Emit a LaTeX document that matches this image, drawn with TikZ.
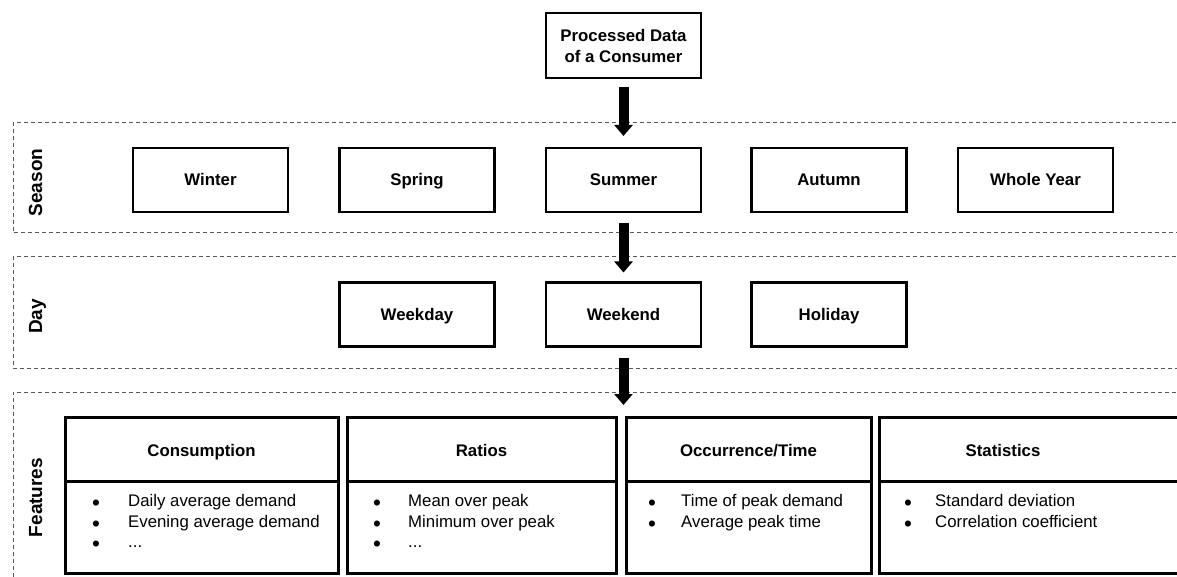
\documentclass[tikz,border=0pt]{standalone}
\usepackage{fontspec}
\setmainfont{Liberation Sans}
\usetikzlibrary{arrows.meta}

% list bullet, a little larger than the text bullet
\newcommand{\listdot}[1]{\makebox[#1][l]{\raisebox{-4.3pt}{\fontsize{22.5}{0}\selectfont •}}}

\begin{document}
\begin{tikzpicture}[x=1pt,y=-1pt,
  stagebox/.style={draw=black, line width=2.9pt, minimum width=155pt, minimum height=64pt,
    inner sep=0pt, outer sep=0pt, text height=12pt, text depth=0pt,
    font=\fontsize{16.8}{21}\selectfont\bfseries},
  band/.style={draw=black!65, line width=1pt, dash pattern=on 4pt off 3pt},
  bandlabel/.style={rotate=90, anchor=base, inner sep=0pt, font=\fontsize{19}{19}\selectfont\bfseries},
  flow/.style={line width=10pt, -{Triangle[width=18pt,length=11pt]}},
  featframe/.style={draw=black, line width=3pt},
  feathead/.style={anchor=base, inner sep=0pt, font=\fontsize{16.8}{20}\selectfont\bfseries},
  featitem/.style={anchor=base west, inner sep=0pt, font=\fontsize{16.8}{20}\selectfont},
]
\useasboundingbox (0,0) rectangle (1177,577);

% dashed bands
\draw[band] (1190,123) -- (13,123) -- (13,233) -- (1190,233);
\draw[band] (1190,257) -- (13,257) -- (13,368) -- (1190,368);
\draw[band] (1190,392) -- (13,392) -- (13,590);

\node[bandlabel] (lseason) at (42,182.5) {Season};
\node[bandlabel] (lday) at (42,316.5) {Day};
\node[bandlabel] (lfeat) at (42,497.5) {Features};

% input
\node[stagebox, text height=, text depth=, minimum height=65pt, align=center] (input) at (623.5,45.5)
  {Processed Data\\of a Consumer};

% seasons
\node[stagebox] (winter) at (210.5,180) {Winter};
\node[stagebox] (spring) at (417,180) {Spring};
\node[stagebox] (summer) at (623.5,180) {Summer};
\node[stagebox] (autumn) at (829,180) {Autumn};
\node[stagebox] (year)   at (1035.5,180) {Whole Year};

% day types
\node[stagebox] (weekday) at (417,314.5) {Weekday};
\node[stagebox] (weekend) at (623.5,314.5) {Weekend};
\node[stagebox] (holiday) at (829,314.5) {Holiday};

% feature groups
\draw[featframe] (65,417) rectangle (338,573) (65,481) -- (338,481);
\draw[featframe] (347,417) rectangle (616,573) (347,481) -- (616,481);
\draw[featframe] (626,417) rectangle (871,573) (626,481) -- (871,481);
\draw[featframe] (879,417) rectangle (1190,573) (879,481) -- (1190,481);
\coordinate (featin) at (623.5,417);

\node[feathead] (hcons) at (201.5,456) {Consumption};
\node[feathead] (hratio) at (481.5,456) {Ratios};
\node[feathead] (hocc) at (748.5,456) {Occurrence/Time};
\node[feathead] (hstat) at (1003,456) {Statistics};

\node[featitem] (cons1) at (92,506.5) {\listdot{36pt}Daily average demand};
\node[featitem] (cons2) at (92,527) {\listdot{36pt}Evening average demand};
\node[featitem] (cons3) at (92,547.5) {\listdot{36pt}...};

\node[featitem] (ratio1) at (373,506.5) {\listdot{35pt}Mean over peak};
\node[featitem] (ratio2) at (373,527) {\listdot{35pt}Minimum over peak};
\node[featitem] (ratio3) at (373,547.5) {\listdot{35pt}...};

\node[featitem] (occ1) at (648,506.5) {\listdot{33pt}Time of peak demand};
\node[featitem] (occ2) at (648,527) {\listdot{33pt}Average peak time};

\node[featitem] (stat1) at (904,506.5) {\listdot{31pt}Standard deviation};
\node[featitem] (stat2) at (904,527) {\listdot{31pt}Correlation coefficient};

% flow arrows
\draw[flow, shorten <=9pt, shorten >=12pt] (input.south) -- (summer.north);
\draw[flow, shorten <=11pt, shorten >=10pt] (summer.south) -- (weekend.north);
\draw[flow, shorten <=11pt, shorten >=12pt] (weekend.south) -- (featin);
\end{tikzpicture}
\end{document}
